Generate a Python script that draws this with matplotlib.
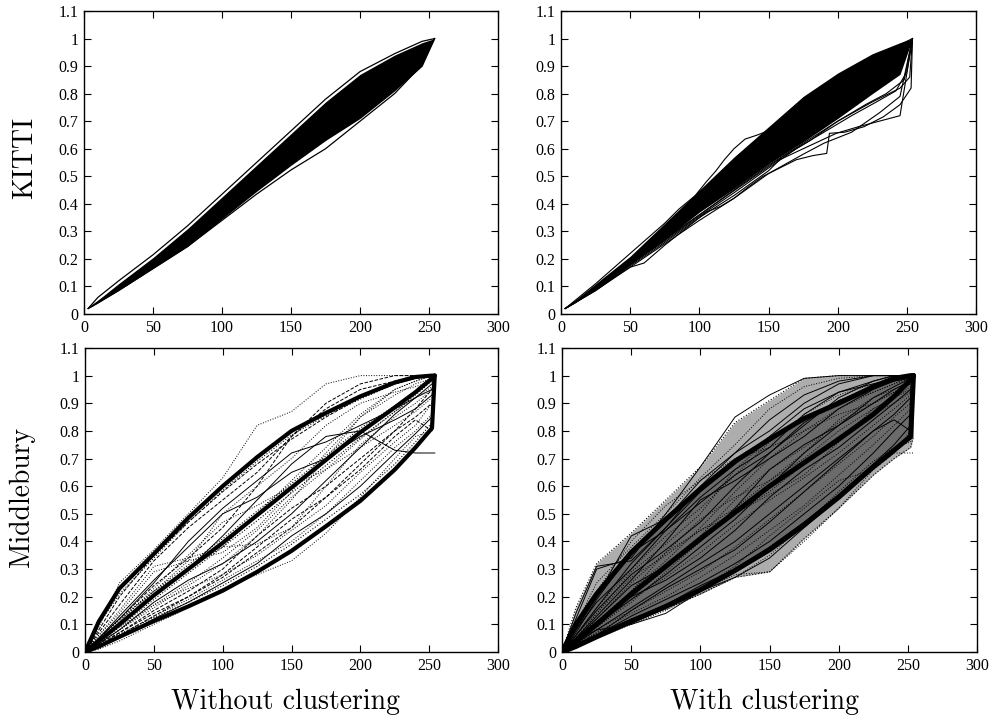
import matplotlib
matplotlib.use('Agg')
import matplotlib.pyplot as plt

# common x grids
XK = [3, 10, 25, 50, 75, 100, 125, 150, 175, 200, 225, 245, 254]
XM = [0, 10, 25, 50, 75, 100, 125, 150, 175, 200, 225, 240, 252, 254]

x_ticks = [0, 50, 100, 150, 200, 250, 300]
x_tick_labels = ['0', '50', '100', '150', '200', '250', '300']
y_ticks = [0, 0.1, 0.2, 0.3, 0.4, 0.5, 0.6, 0.7, 0.8, 0.9, 1.0, 1.1]
y_tick_labels = ['0', '0.1', '0.2', '0.3', '0.4', '0.5', '0.6', '0.7', '0.8', '0.9', '1', '1.1']

row_labels = ['KITTI', 'Middlebury']
col_labels = ['Without clustering', 'With clustering']

# KITTI, without clustering
tl_band_hi = [0.02, 0.05, 0.11, 0.205, 0.31, 0.425, 0.54, 0.655, 0.77, 0.87, 0.94, 0.985, 1.00]
tl_band_lo = [0.02, 0.04, 0.085, 0.165, 0.245, 0.345, 0.445, 0.54, 0.63, 0.71, 0.81, 0.90, 1.00]
tl_outer_hi = [0.02, 0.06, 0.12, 0.215, 0.32, 0.435, 0.55, 0.665, 0.78, 0.88, 0.945, 0.99, 1.00]
tl_outer_lo = [0.02, 0.04, 0.085, 0.165, 0.245, 0.34, 0.435, 0.523, 0.60, 0.70, 0.80, 0.905, 1.00]
tl_inner = [0.02, 0.045, 0.095, 0.18, 0.27, 0.37, 0.47, 0.565, 0.655, 0.74, 0.84, 0.935, 1.00]

# KITTI, with clustering
tr_band_hi = [0.02, 0.05, 0.11, 0.21, 0.33, 0.45, 0.57, 0.68, 0.79, 0.875, 0.945, 0.985, 1.00]
tr_band_lo = [0.02, 0.04, 0.09, 0.18, 0.27, 0.37, 0.455, 0.545, 0.625, 0.71, 0.80, 0.87, 1.00]
tr_jag_x = [
    [3, 25, 50, 75, 85, 97, 105, 112, 118, 125, 133, 142, 151, 160, 170, 185, 200, 225, 254],
    [3, 25, 50, 60, 75, 90, 105, 115, 125, 135, 146, 158, 170, 182, 192, 194, 205, 219, 233, 245, 253, 254],
    [3, 25, 50, 75, 100, 125, 150, 158, 175, 199, 215, 230, 245, 254],
    [3, 25, 50, 75, 100, 125, 150, 175, 200, 225, 245, 252, 254],
    [3, 25, 50, 75, 100, 120, 140, 160, 180, 200, 220, 235, 248, 254],
    [3, 25, 50, 75, 100, 125, 150, 175, 190, 210, 230, 245, 254],
    [3, 25, 50, 75, 100, 125, 150, 170, 190, 210, 228, 242, 250, 254],
]
tr_jag_y = [
    [0.02, 0.11, 0.22, 0.33, 0.38, 0.43, 0.48, 0.52, 0.56, 0.60, 0.635, 0.65, 0.668, 0.69, 0.728, 0.79, 0.86, 0.93, 1.00],
    [0.02, 0.09, 0.17, 0.185, 0.25, 0.31, 0.37, 0.39, 0.42, 0.46, 0.50, 0.53, 0.56, 0.575, 0.583, 0.656, 0.66, 0.68, 0.716, 0.76, 0.82, 1.00],
    [0.02, 0.085, 0.175, 0.26, 0.35, 0.43, 0.52, 0.56, 0.60, 0.656, 0.68, 0.70, 0.72, 1.00],
    [0.02, 0.09, 0.18, 0.27, 0.36, 0.45, 0.54, 0.62, 0.70, 0.77, 0.82, 0.86, 1.00],
    [0.02, 0.09, 0.18, 0.27, 0.36, 0.43, 0.50, 0.57, 0.63, 0.70, 0.76, 0.80, 0.85, 1.00],
    [0.02, 0.085, 0.17, 0.255, 0.34, 0.42, 0.51, 0.58, 0.62, 0.66, 0.73, 0.79, 1.00],
    [0.02, 0.09, 0.18, 0.265, 0.355, 0.44, 0.53, 0.60, 0.66, 0.72, 0.77, 0.81, 0.88, 1.00],
]

# Middlebury, without clustering
bl_rope_hi = [0.0, 0.11, 0.23, 0.355, 0.485, 0.60, 0.705, 0.80, 0.865, 0.925, 0.975, 0.995, 1.0, 1.0]
bl_rope_mid = [0.0, 0.04, 0.10, 0.205, 0.30, 0.395, 0.495, 0.595, 0.695, 0.795, 0.885, 0.94, 0.99, 1.0]
bl_rope_lo = [0.0, 0.02, 0.055, 0.112, 0.165, 0.222, 0.29, 0.366, 0.455, 0.547, 0.66, 0.74, 0.81, 1.0]
bl_curves = [
    [0, 0.09, 0.25, 0.37, 0.50, 0.63, 0.82, 0.87, 0.97, 1.0, 1.0, 1.0, 1.0, 1.0],
    [0, 0.05, 0.12, 0.24, 0.34, 0.45, 0.60, 0.78, 0.90, 0.97, 1.0, 1.0, 1.0, 1.0],
    [0, 0.06, 0.15, 0.31, 0.34, 0.38, 0.39, 0.45, 0.60, 0.75, 0.85, 0.90, 0.95, 1.0],
    [0, 0.04, 0.10, 0.20, 0.30, 0.42, 0.55, 0.68, 0.78, 0.80, 0.73, 0.72, 0.72, 0.72],
    [0, 0.03, 0.08, 0.16, 0.24, 0.32, 0.42, 0.55, 0.70, 0.85, 0.95, 0.98, 1.0, 1.0],
    [0, 0.02, 0.07, 0.14, 0.20, 0.27, 0.36, 0.45, 0.56, 0.68, 0.80, 0.88, 0.95, 1.0],
    [0, 0.03, 0.09, 0.17, 0.23, 0.28, 0.35, 0.44, 0.53, 0.65, 0.76, 0.82, 0.90, 1.0],
    [0, 0.05, 0.13, 0.26, 0.38, 0.50, 0.56, 0.65, 0.70, 0.78, 0.84, 0.88, 0.93, 1.0],
    [0, 0.01, 0.04, 0.10, 0.16, 0.23, 0.28, 0.33, 0.43, 0.56, 0.70, 0.78, 0.80, 1.0],
    [0, 0.07, 0.17, 0.33, 0.45, 0.55, 0.65, 0.78, 0.88, 0.95, 0.98, 1.0, 1.0, 1.0],
    [0, 0.04, 0.10, 0.22, 0.33, 0.50, 0.60, 0.70, 0.82, 0.90, 0.94, 0.96, 0.98, 1.0],
    [0, 0.03, 0.08, 0.18, 0.26, 0.32, 0.40, 0.50, 0.62, 0.74, 0.86, 0.92, 0.97, 1.0],
    [0, 0.06, 0.14, 0.29, 0.33, 0.36, 0.45, 0.58, 0.72, 0.85, 0.93, 0.97, 0.99, 1.0],
    [0, 0.03, 0.07, 0.15, 0.22, 0.30, 0.42, 0.52, 0.60, 0.70, 0.80, 0.85, 0.90, 1.0],
    [0, 0.02, 0.06, 0.13, 0.19, 0.26, 0.33, 0.40, 0.50, 0.62, 0.74, 0.80, 0.86, 1.0],
    [0, 0.05, 0.12, 0.25, 0.40, 0.52, 0.62, 0.72, 0.76, 0.82, 0.88, 0.92, 0.95, 1.0],
    [0, 0.04, 0.11, 0.23, 0.35, 0.47, 0.53, 0.60, 0.66, 0.74, 0.82, 0.87, 0.92, 1.0],
    [0, 0.08, 0.20, 0.35, 0.47, 0.58, 0.68, 0.77, 0.85, 0.92, 0.97, 0.99, 1.0, 1.0],
    [0, 0.03, 0.08, 0.17, 0.25, 0.34, 0.44, 0.56, 0.66, 0.77, 0.87, 0.92, 0.96, 1.0],
    [0, 0.02, 0.05, 0.12, 0.18, 0.25, 0.32, 0.42, 0.50, 0.60, 0.72, 0.79, 0.85, 1.0],
    [0, 0.05, 0.12, 0.22, 0.30, 0.38, 0.50, 0.62, 0.74, 0.86, 0.95, 0.98, 1.0, 1.0],
    [0, 0.02, 0.06, 0.13, 0.20, 0.28, 0.38, 0.48, 0.56, 0.66, 0.78, 0.84, 0.80, 1.0],
]
bl_near_rope = [
    [0, 0.10, 0.21, 0.34, 0.47, 0.585, 0.69, 0.785, 0.855, 0.915, 0.97, 0.99, 1.0, 1.0],
    [0, 0.05, 0.115, 0.22, 0.315, 0.41, 0.51, 0.61, 0.71, 0.81, 0.89, 0.945, 0.99, 1.0],
    [0, 0.035, 0.09, 0.19, 0.285, 0.38, 0.475, 0.575, 0.675, 0.775, 0.87, 0.93, 0.98, 1.0],
    [0, 0.025, 0.065, 0.125, 0.18, 0.24, 0.31, 0.39, 0.48, 0.57, 0.68, 0.76, 0.83, 1.0],
]

# Middlebury, with clustering
br_rope_hi = [0.0, 0.10, 0.21, 0.36, 0.48, 0.59, 0.69, 0.77, 0.845, 0.90, 0.96, 0.99, 1.0, 1.0]
br_rope_mid = [0.0, 0.04, 0.10, 0.21, 0.31, 0.41, 0.505, 0.60, 0.685, 0.77, 0.86, 0.925, 0.985, 1.0]
br_rope_lo = [0.0, 0.02, 0.055, 0.11, 0.165, 0.225, 0.295, 0.37, 0.46, 0.56, 0.67, 0.73, 0.78, 1.0]
br_env_hi = [0.0, 0.16, 0.32, 0.43, 0.55, 0.67, 0.83, 0.91, 0.99, 1.0, 1.0, 1.0, 1.0, 1.0]
br_env_lo = [0.0, 0.03, 0.065, 0.11, 0.155, 0.21, 0.27, 0.29, 0.41, 0.52, 0.64, 0.70, 0.74, 0.78]
br_curves = [
    [0, 0.12, 0.30, 0.34, 0.50, 0.67, 0.85, 0.93, 0.99, 1.0, 1.0, 1.0, 1.0, 1.0],
    [0, 0.10, 0.25, 0.38, 0.50, 0.63, 0.75, 0.88, 0.96, 0.99, 1.0, 1.0, 1.0, 1.0],
    [0, 0.08, 0.20, 0.42, 0.48, 0.62, 0.72, 0.80, 0.90, 0.97, 1.0, 1.0, 1.0, 1.0],
    [0, 0.06, 0.16, 0.30, 0.42, 0.52, 0.64, 0.76, 0.86, 0.93, 0.97, 0.99, 1.0, 1.0],
    [0, 0.05, 0.13, 0.26, 0.40, 0.55, 0.62, 0.70, 0.78, 0.88, 0.95, 0.98, 1.0, 1.0],
    [0, 0.04, 0.11, 0.22, 0.33, 0.45, 0.58, 0.70, 0.80, 0.86, 0.90, 0.94, 0.97, 1.0],
    [0, 0.05, 0.12, 0.24, 0.31, 0.40, 0.52, 0.66, 0.75, 0.82, 0.92, 0.96, 0.99, 1.0],
    [0, 0.03, 0.09, 0.19, 0.27, 0.36, 0.46, 0.55, 0.63, 0.72, 0.82, 0.88, 0.93, 1.0],
    [0, 0.03, 0.08, 0.16, 0.24, 0.32, 0.40, 0.50, 0.60, 0.70, 0.80, 0.86, 0.92, 1.0],
    [0, 0.02, 0.07, 0.14, 0.20, 0.27, 0.35, 0.44, 0.53, 0.64, 0.75, 0.82, 0.88, 1.0],
    [0, 0.02, 0.06, 0.12, 0.17, 0.24, 0.30, 0.38, 0.47, 0.57, 0.68, 0.75, 0.82, 1.0],
    [0, 0.02, 0.05, 0.10, 0.15, 0.22, 0.28, 0.29, 0.40, 0.52, 0.66, 0.72, 0.72, 0.72],
    [0, 0.04, 0.08, 0.10, 0.14, 0.22, 0.27, 0.34, 0.45, 0.56, 0.67, 0.73, 0.77, 1.0],
    [0, 0.04, 0.10, 0.20, 0.30, 0.42, 0.55, 0.66, 0.74, 0.83, 0.90, 0.94, 0.97, 1.0],
    [0, 0.06, 0.15, 0.28, 0.37, 0.47, 0.60, 0.72, 0.83, 0.91, 0.96, 0.98, 0.99, 1.0],
    [0, 0.03, 0.10, 0.22, 0.36, 0.48, 0.56, 0.62, 0.70, 0.80, 0.88, 0.92, 0.96, 1.0],
    [0, 0.02, 0.06, 0.15, 0.23, 0.30, 0.37, 0.47, 0.58, 0.69, 0.80, 0.84, 0.80, 1.0],
    [0, 0.05, 0.14, 0.29, 0.39, 0.50, 0.66, 0.77, 0.85, 0.90, 0.94, 0.97, 1.0, 1.0],
    [0, 0.14, 0.31, 0.33, 0.45, 0.60, 0.72, 0.84, 0.93, 0.98, 1.0, 1.0, 1.0, 1.0],
    [0, 0.09, 0.22, 0.40, 0.53, 0.62, 0.70, 0.74, 0.80, 0.88, 0.94, 0.97, 0.99, 1.0],
    [0, 0.07, 0.19, 0.36, 0.44, 0.56, 0.66, 0.74, 0.86, 0.94, 0.98, 1.0, 1.0, 1.0],
    [0, 0.05, 0.14, 0.27, 0.35, 0.44, 0.52, 0.62, 0.72, 0.84, 0.92, 0.95, 0.98, 1.0],
    [0, 0.04, 0.10, 0.19, 0.28, 0.38, 0.48, 0.60, 0.72, 0.82, 0.90, 0.95, 0.98, 1.0],
    [0, 0.03, 0.08, 0.15, 0.22, 0.29, 0.38, 0.48, 0.58, 0.68, 0.78, 0.85, 0.90, 1.0],
    [0, 0.02, 0.06, 0.13, 0.19, 0.25, 0.32, 0.40, 0.50, 0.60, 0.72, 0.80, 0.86, 1.0],
    [0, 0.03, 0.07, 0.12, 0.16, 0.21, 0.27, 0.35, 0.46, 0.58, 0.69, 0.74, 0.76, 1.0],
    [0, 0.06, 0.16, 0.32, 0.45, 0.58, 0.68, 0.78, 0.88, 0.94, 0.97, 0.99, 1.0, 1.0],
    [0, 0.04, 0.12, 0.25, 0.36, 0.44, 0.50, 0.58, 0.68, 0.78, 0.86, 0.90, 0.94, 1.0],
    [0, 0.05, 0.11, 0.20, 0.26, 0.34, 0.44, 0.56, 0.66, 0.74, 0.84, 0.90, 0.95, 1.0],
    [0, 0.02, 0.05, 0.11, 0.16, 0.23, 0.31, 0.42, 0.52, 0.62, 0.66, 0.72, 0.80, 1.0],
    [0, 0.08, 0.18, 0.30, 0.44, 0.54, 0.64, 0.72, 0.82, 0.92, 0.98, 1.0, 1.0, 1.0],
    [0, 0.03, 0.09, 0.18, 0.29, 0.40, 0.50, 0.57, 0.64, 0.76, 0.88, 0.92, 0.95, 1.0],
]


def style_axes(ax):
    ax.set_xlim(0, 300)
    ax.set_ylim(0, 1.1)
    ax.set_xticks(x_ticks)
    ax.set_xticklabels(x_tick_labels)
    ax.set_yticks(y_ticks)
    ax.set_yticklabels(y_tick_labels)
    ax.tick_params(direction='in', length=5, width=0.8, top=True, right=True,
                   labelsize=11.5, pad=4)
    for lab in ax.get_xticklabels() + ax.get_yticklabels():
        lab.set_family('Liberation Serif')
    for s in ax.spines.values():
        s.set_linewidth(1.0)
        s.set_zorder(5)


fig = plt.figure(figsize=(9.93, 7.24), dpi=100)
ax_tl = fig.add_axes([0.0846, 0.5663, 0.4170, 0.4185])
ax_tr = fig.add_axes([0.5650, 0.5663, 0.4180, 0.4185])
ax_bl = fig.add_axes([0.0856, 0.0994, 0.4160, 0.4200])
ax_br = fig.add_axes([0.5660, 0.0994, 0.4180, 0.4200])

# top left
ax_tl.fill_between(XK, tl_band_lo, tl_band_hi, color='black', lw=0)
ax_tl.plot(XK, tl_outer_hi, color='black', lw=0.9)
ax_tl.plot(XK, tl_outer_lo, color='black', lw=0.9)
ax_tl.plot(XK, tl_inner, color='black', lw=0.7)

# top right
ax_tr.fill_between(XK, tr_band_lo, tr_band_hi, color='black', lw=0)
for xs, ys in zip(tr_jag_x, tr_jag_y):
    ax_tr.plot(xs, ys, color='black', lw=0.8)

# bottom left
for i, ys in enumerate(bl_curves):
    ax_bl.plot(XM, ys, color='black', lw=0.7, ls=[':', '--', ':', '-'][i % 4])
for ys in bl_near_rope:
    ax_bl.plot(XM, ys, color='black', lw=0.8, ls=':')
for ys in [bl_rope_hi, bl_rope_mid, bl_rope_lo]:
    ax_bl.plot(XM, ys, color='black', lw=3.0, solid_capstyle='round')

# bottom right: dense mass of curves shown as grey fill under the lines
ax_br.fill_between(XM, br_env_lo, br_env_hi, color='0.68', lw=0)
ax_br.fill_between(XM, br_rope_lo, br_rope_hi, color='0.42', lw=0)
ax_br.plot(XM, br_env_hi, color='black', lw=0.8, ls=':')
ax_br.plot(XM, br_env_lo, color='black', lw=0.8, ls=':')
for i, ys in enumerate(br_curves):
    ax_br.plot(XM, ys, color='black', lw=0.7, ls=':' if i % 2 else '-')
for ys in [br_rope_hi, br_rope_mid, br_rope_lo]:
    ax_br.plot(XM, ys, color='black', lw=3.6, solid_capstyle='round')

for ax in [ax_tl, ax_tr, ax_bl, ax_br]:
    style_axes(ax)

fig.text(0.025, 0.782, row_labels[0], rotation=90, ha='center', va='center',
         family='cmr10', fontsize=20)
fig.text(0.022, 0.313, row_labels[1], rotation=90, ha='center', va='center',
         family='cmr10', fontsize=20)
fig.text(0.288, 0.030, col_labels[0], ha='center', va='center',
         family='cmr10', fontsize=20)
fig.text(0.770, 0.030, col_labels[1], ha='center', va='center',
         family='cmr10', fontsize=20)

fig.savefig('out.png', dpi=100)
